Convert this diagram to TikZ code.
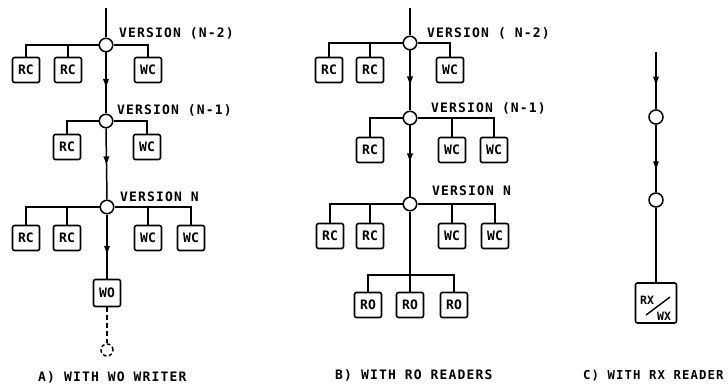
\documentclass[tikz,border=0pt]{standalone}
\usepackage{fontspec}
\newfontfamily\lettfont[LetterSpace=9]{DejaVu Sans Mono}
\newfontfamily\boxfont{DejaVu Sans Mono}
\usetikzlibrary{decorations.markings,arrows.meta}
\tikzset{
  ver/.style={circle, draw, line width=1.5pt, minimum size=13.5pt, inner sep=0pt},
  cbox/.style={draw, rounded corners=2pt, line width=1.6pt, minimum width=27pt,
    minimum height=25pt, inner sep=0pt, font=\boxfont\bfseries\fontsize{13}{13}\selectfont},
  wire/.style={line width=1.5pt},
  lbl/.style={anchor=base west, inner sep=0pt, font=\lettfont\bfseries\fontsize{13}{13}\selectfont},
  flow/.style={wire, postaction={decorate}, decoration={markings,
    mark=at position #1 with {\fill (4pt,0pt) -- (-4pt,3pt) -- (-4pt,-3pt) -- cycle;}}},
}
\begin{document}
\begin{tikzpicture}[x=1pt,y=-1pt]
\useasboundingbox (0,0) rectangle (728,385);

% ---------------- A) with WO writer ----------------
\coordinate (a0) at (106,8);
\node[ver] (a1) at (106,45) {};
\node[ver] (a2) at (106,121) {};
\node[ver] (a3) at (107,207) {};
\node[cbox] (a1r1) at (26,70) {RC};
\node[cbox] (a1r2) at (68,70) {RC};
\node[cbox] (a1w1) at (148,70) {WC};
\node[cbox] (a2r1) at (67,147) {RC};
\node[cbox] (a2w1) at (147,147) {WC};
\node[cbox] (a3r1) at (26,238) {RC};
\node[cbox] (a3r2) at (67,238) {RC};
\node[cbox] (a3w1) at (148,238) {WC};
\node[cbox] (a3w2) at (191,238) {WC};
\node[cbox, minimum height=27pt] (awo) at (107,293) {WO};
\node[ver, dash pattern=on 3.5pt off 2.5pt, minimum size=12pt] (anext) at (107,350) {};
\node[lbl] (a1l) at (119,38) {VERSION (N-2)};
\node[lbl] (a2l) at (117,115) {VERSION (N-1)};
\node[lbl] (a3l) at (120,201) {VERSION N};
\node[lbl] (acap) at (38,381) {A) WITH WO WRITER};

\draw[wire] (a0) -- (a1.north);
\draw[flow=0.5] (a1.south) -- (a2.north);
\draw[flow=0.45] (a2.south) -- (a3.north);
\draw[flow=0.55] (a3.south) -- (awo.north);
\draw[wire, dash pattern=on 5pt off 3pt] (awo.south) -- (anext.north);
\draw[wire] (a1.west) -| (a1r1.north);
\draw[wire] (a1r2.north |- a1.west) -- (a1r2.north);
\draw[wire] (a1.east) -| (a1w1.north);
\draw[wire] (a2.west) -| (a2r1.north);
\draw[wire] (a2.east) -| (a2w1.north);
\draw[wire] (a3.west) -| (a3r1.north);
\draw[wire] (a3r2.north |- a3.west) -- (a3r2.north);
\draw[wire] (a3.east) -| (a3w2.north);
\draw[wire] (a3w1.north |- a3.east) -- (a3w1.north);

% ---------------- B) with RO readers ----------------
\coordinate (b0) at (410,8);
\node[ver] (b1) at (410,43) {};
\node[ver] (b2) at (410,118) {};
\node[ver] (b3) at (410,204) {};
\coordinate (bj) at (410,275);
\node[cbox] (b1r1) at (329,70) {RC};
\node[cbox] (b1r2) at (370,70) {RC};
\node[cbox] (b1w1) at (450,70) {WC};
\node[cbox] (b2r1) at (370,150) {RC};
\node[cbox] (b2w1) at (452,150) {WC};
\node[cbox] (b2w2) at (494,150) {WC};
\node[cbox] (b3r1) at (330,236) {RC};
\node[cbox] (b3r2) at (370,236) {RC};
\node[cbox] (b3w1) at (452,236) {WC};
\node[cbox] (b3w2) at (495,236) {WC};
\node[cbox] (bro1) at (368,305) {RO};
\node[cbox] (bro2) at (410,305) {RO};
\node[cbox] (bro3) at (454,305) {RO};
\node[lbl] (b1l) at (427,38) {VERSION ( N-2)};
\node[lbl] (b2l) at (431,113) {VERSION (N-1)};
\node[lbl] (b3l) at (432,195) {VERSION N};
\node[lbl] (bcap) at (335,379) {B) WITH RO READERS};

\draw[wire] (b0) -- (b1.north);
\draw[flow=0.5] (b1.south) -- (b2.north);
\draw[flow=0.45] (b2.south) -- (b3.north);
\draw[wire] (b3.south) -- (bj);
\draw[wire] (bro1.north) |- (bj) -| (bro3.north);
\draw[wire] (bj) -- (bro2.north);
\draw[wire] (b1.west) -| (b1r1.north);
\draw[wire] (b1r2.north |- b1.west) -- (b1r2.north);
\draw[wire] (b1.east) -| (b1w1.north);
\draw[wire] (b2.west) -| (b2r1.north);
\draw[wire] (b2.east) -| (b2w2.north);
\draw[wire] (b2w1.north |- b2.east) -- (b2w1.north);
\draw[wire] (b3.west) -| (b3r1.north);
\draw[wire] (b3r2.north |- b3.west) -- (b3r2.north);
\draw[wire] (b3.east) -| (b3w2.north);
\draw[wire] (b3w1.north |- b3.east) -- (b3w1.north);

% ---------------- C) with RX reader ----------------
\coordinate (c0) at (656,52);
\node[ver, minimum size=14pt] (c1) at (656,117) {};
\node[ver, minimum size=14pt] (c2) at (656,200) {};
\node[draw, rounded corners=2pt, line width=1.6pt, minimum width=41pt, minimum height=40pt] (cx) at (656,303) {};
\node[anchor=base west, inner sep=0pt, font=\boxfont\bfseries\fontsize{11.5}{11.5}\selectfont] (crx) at (640,304) {RX};
\node[anchor=base west, inner sep=0pt, font=\boxfont\bfseries\fontsize{11.5}{11.5}\selectfont] (cwx) at (657,320) {WX};
\draw[line width=1.4pt] (646,315) -- (670,297);
\node[lbl, font=\lettfont\bfseries\fontsize{12.3}{12.3}\selectfont] (ccap) at (583,379) {C) WITH RX READER};

\draw[flow=0.5] (c0) -- (c1.north);
\draw[flow=0.6] (c1.south) -- (c2.north);
\draw[wire] (c2.south) -- (cx.north);
\end{tikzpicture}
\end{document}
